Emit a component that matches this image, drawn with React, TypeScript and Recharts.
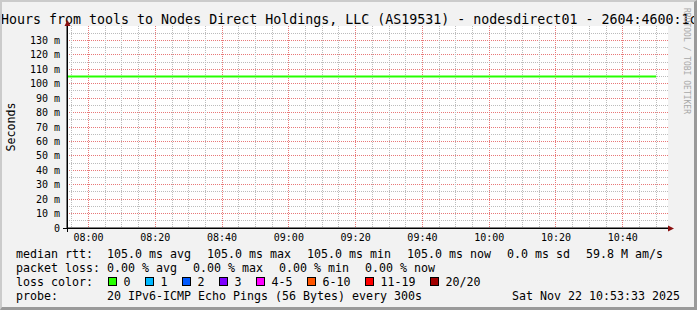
import React from "react";
import {
  LineChart,
  Line,
  XAxis,
  YAxis,
  CartesianGrid,
} from "recharts";

// 5 minute rrd steps, median rtt in ms
const sampleTimes = [
  "07:50", "07:55", "08:00", "08:05", "08:10", "08:15", "08:20", "08:25",
  "08:30", "08:35", "08:40", "08:45", "08:50", "08:55", "09:00", "09:05",
  "09:10", "09:15", "09:20", "09:25", "09:30", "09:35", "09:40", "09:45",
  "09:50", "09:55", "10:00", "10:05", "10:10", "10:15", "10:20", "10:25",
  "10:30", "10:35", "10:40", "10:45", "10:50",
];
const medianRtt = [
  105, 105, 105, 105, 105, 105, 105, 105, 105, 105, 105, 105, 105, 105, 105,
  105, 105, 105, 105, 105, 105, 105, 105, 105, 105, 105, 105, 105, 105, 105,
  105, 105, 105, 105, 105, 105, 105,
];
const packetLoss = [0, 0, 0, 0];

const timeTicks = ["08:00", "08:20", "08:40", "09:00", "09:20", "09:40", "10:00", "10:20", "10:40"];
const rttTicks = [0, 10, 20, 30, 40, 50, 60, 70, 80, 90, 100, 110, 120, 130];

const lossLevels = ["0", "1", "2", "3", "4-5", "6-10", "11-19", "20/20"];
const lossColors = ["#26ff00", "#00b8ff", "#0059ff", "#7e00ff", "#ff00ff", "#ff5500", "#ff0000", "#a10000"];

const title = "Hours from tools to Nodes Direct Holdings, LLC (AS19531) - nodesdirect01 - 2604:4600:1c";
const probeText = "20 IPv6-ICMP Echo Pings (56 Bytes) every 300s";
const stamp = "Sat Nov 22 10:53:33 2025";

const mono = "'DejaVu Sans Mono', monospace";

const toMin = (s: string) => {
  const [h, m] = s.split(":").map(Number);
  return h * 60 + m - 480;
};
const fmt = (v: number) => {
  const t = v + 480;
  const h = Math.floor(t / 60);
  const m = Math.round(t % 60);
  return `${String(h).padStart(2, "0")}:${String(m).padStart(2, "0")}`;
};

const startMin = -6.45; // 07:53:33
const endMin = 173.55; // 10:53:33

const data = sampleTimes.map((t, i) => ({ t: toMin(t), rtt: medianRtt[i] }));

const minorX: number[] = [];
for (let m = -5; m <= 170; m += 5) if (m % 20 !== 0) minorX.push(m);
const majorX = timeTicks.map(toMin);
const minorY: number[] = [];
for (let v = 5; v <= 135; v += 10) minorY.push(v);
const majorY = rttTicks.slice(1);

const avg = medianRtt.reduce((a, b) => a + b, 0) / medianRtt.length;
const rttItems = [
  `${avg.toFixed(1)} ms avg`,
  `${Math.max(...medianRtt).toFixed(1)} ms max`,
  `${Math.min(...medianRtt).toFixed(1)} ms min`,
  `${medianRtt[medianRtt.length - 1].toFixed(1)} ms now`,
  "0.0 ms sd",
  "59.8 M am/s",
];
const lossItems = [
  `${packetLoss[0].toFixed(2)} % avg`,
  `${packetLoss[1].toFixed(2)} % max`,
  `${packetLoss[2].toFixed(2)} % min`,
  `${packetLoss[3].toFixed(2)} % now`,
];

const CW = 7;
const place = (items: string[], start = 107, gap = 16) => {
  const xs: number[] = [];
  let x = start;
  items.forEach((s) => {
    xs.push(x);
    x += s.length * CW + gap;
  });
  return xs;
};

const rows = [258.3, 272, 285.8, 299.5];

export default function App() {
  const rttX = place(rttItems);
  const lossX = place(lossItems);
  const boxX: number[] = [];
  let bx = 108.5;
  lossLevels.forEach((l) => {
    boxX.push(bx);
    bx += 30 + l.length * CW;
  });
  const legendText = { fontFamily: mono, fontSize: 11.63, fill: "#000" };

  return (
    <div
      style={{
        position: "fixed",
        left: 0,
        top: 0,
        width: 697,
        height: 310,
        background: "#f2f2f2",
        overflow: "hidden",
      }}
    >
      <div style={{ position: "absolute", left: 0, top: 0 }}>
        <LineChart
          width={697}
          height={310}
          data={data}
          margin={{ top: 26, right: 29, bottom: 62, left: 7 }}
        >
          <CartesianGrid
            fill="#ffffff"
            stroke="#e87878"
            strokeDasharray="1 1"
            shapeRendering="crispEdges"
            horizontalValues={majorY}
            verticalValues={majorX}
          />
          <CartesianGrid
            stroke="#bcbcbc"
            strokeDasharray="1 1"
            shapeRendering="crispEdges"
            horizontalValues={minorY}
            verticalValues={minorX}
          />
          <XAxis
            dataKey="t"
            type="number"
            domain={[startMin, endMin]}
            allowDataOverflow
            ticks={majorX}
            interval={0}
            tickFormatter={fmt}
            tick={{ fontSize: 10, fontFamily: mono, fill: "#000" }}
            tickLine={false}
            tickSize={6}
            tickMargin={0}
            axisLine={{ stroke: "#000" }}
            height={20}
          />
          <YAxis
            type="number"
            domain={[0, 140]}
            allowDataOverflow
            ticks={rttTicks}
            interval={0}
            tickFormatter={(v: number) => (v === 0 ? "0" : `${v} m`)}
            tick={{ fontSize: 10, fontFamily: mono, fill: "#000" }}
            tickLine={false}
            tickSize={7}
            tickMargin={0}
            axisLine={{ stroke: "#000" }}
            width={60}
          />
          <Line
            type="linear"
            dataKey="rtt"
            stroke="#26ff00"
            strokeWidth={2}
            dot={false}
            isAnimationActive={false}
          />
        </LineChart>
      </div>
      <svg
        width={697}
        height={310}
        style={{ position: "absolute", left: 0, top: 0, pointerEvents: "none" }}
      >
        <text x={1} y={23.5} fontFamily={mono} fontSize={13.3} fill="#000">
          {title}
        </text>
        <text
          x={15}
          y={127}
          transform="rotate(-90 15 127)"
          textAnchor="middle"
          fontFamily={mono}
          fontSize={11.63}
          fill="#000"
        >
          Seconds
        </text>
        <text
          x={684}
          y={8}
          transform="rotate(90 684 8)"
          fontFamily={mono}
          fontSize={8}
          fill="#a8a8a8"
        >
          RRDTOOL / TOBI OETIKER
        </text>
        {/* axis extensions and arrows */}
        <line x1={67.5} y1={21} x2={67.5} y2={232} stroke="#000" />
        <line x1={63} y1={228.5} x2={669} y2={228.5} stroke="#000" />
        <polygon points="64.5,26 70.5,26 67.5,20" fill="#8a1010" />
        <polygon points="668,225.5 668,231.5 674,228.5" fill="#8a1010" />

        <text x={16} y={rows[0]} {...legendText}>median rtt:</text>
        {rttItems.map((s, i) => (
          <text key={s} x={rttX[i]} y={rows[0]} {...legendText} style={{ whiteSpace: "pre" }}>
            {s}
          </text>
        ))}
        <text x={16} y={rows[1]} {...legendText}>packet loss:</text>
        {lossItems.map((s, i) => (
          <text key={s + i} x={lossX[i]} y={rows[1]} {...legendText} style={{ whiteSpace: "pre" }}>
            {s}
          </text>
        ))}
        <text x={16} y={rows[2]} {...legendText}>loss color:</text>
        {lossLevels.map((l, i) => (
          <g key={l}>
            <rect
              x={boxX[i]}
              y={277.5}
              width={8}
              height={8}
              fill={lossColors[i]}
              stroke="#000"
              strokeWidth={1}
            />
            <text x={boxX[i] + 15} y={rows[2]} {...legendText}>
              {l}
            </text>
          </g>
        ))}
        <text x={16} y={rows[3]} {...legendText}>probe:</text>
        <text x={107} y={rows[3]} {...legendText}>{probeText}</text>
        <text x={680} y={rows[3]} textAnchor="end" {...legendText}>{stamp}</text>
      </svg>
      <div
        style={{
          position: "absolute",
          left: 0,
          top: 0,
          width: 697,
          height: 310,
          boxSizing: "border-box",
          borderLeft: "2px solid #cbcbcb",
          borderTop: "2px solid #cbcbcb",
          borderRight: "3px solid #9a9a9a",
          borderBottom: "3px solid #9a9a9a",
          pointerEvents: "none",
        }}
      />
    </div>
  );
}
